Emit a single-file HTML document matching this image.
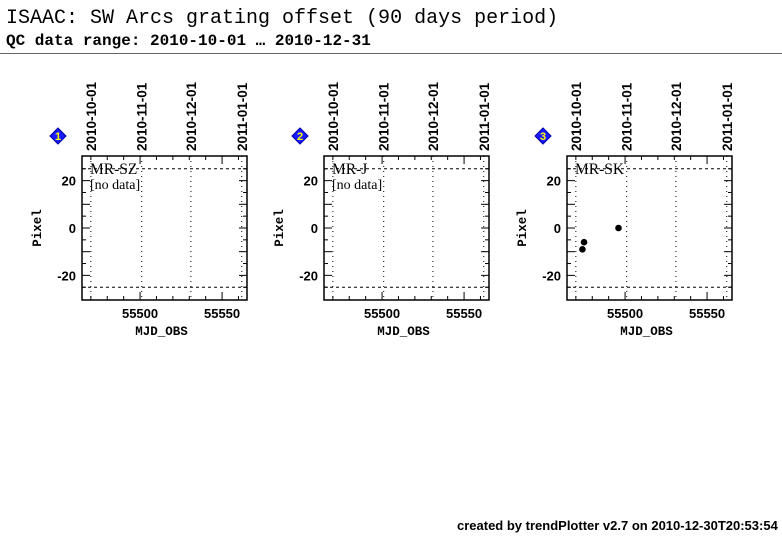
<!DOCTYPE html>
<html><head><meta charset="utf-8">
<style>
body{margin:0;background:#fff;width:782px;height:542px;overflow:hidden;position:relative;font-family:"Liberation Sans",sans-serif}
.title{position:absolute;left:6px;top:7px;font-family:"Liberation Mono",monospace;font-size:20px;color:#000;white-space:nowrap}
.sub{position:absolute;left:6px;top:32px;font-family:"Liberation Mono",monospace;font-size:16px;font-weight:bold;color:#000;white-space:nowrap}
.rule{position:absolute;left:0;top:53px;width:782px;height:1px;background:#666}
.foot{position:absolute;left:457px;top:518px;font-size:13px;font-weight:bold;white-space:nowrap}
svg{position:absolute;left:0;top:0}
</style></head><body>
<div class="title">ISAAC: SW Arcs grating offset (90 days period)</div>
<div class="sub">QC data range: 2010-10-01 … 2010-12-31</div>
<div class="rule"></div>
<div class="foot">created by trendPlotter v2.7 on 2010-12-30T20:53:54</div>
<svg id="chart" width="782" height="542"></svg>
<script>
const panelNames = ["MR-SZ", "MR-J", "MR-SK"];
const dateLabels = ["2010-10-01", "2010-11-01", "2010-12-01", "2011-01-01"];
const dateMjd = [55470, 55501, 55531, 55562];
const xTickLabels = [55500, 55550];
const yTickLabels = [20, 0, -20];
const refLines = [25, -25];
const skMjd = [55474, 55475, 55496];
const skPixel = [-9, -6, 0];
const panelData = [[], [], skMjd.map((m, i) => [m, skPixel[i]])];

const NS = "http://www.w3.org/2000/svg";
const svg = document.getElementById("chart");
const X0 = [82, 324, 567], W = 165, TOP = 156, BOT = 300;
const XMIN = 55464.6, XMAX = 55565.2, YMIN = -30.4, YMAX = 30.4;
function mk(tag, attrs, parent) {
  const e = document.createElementNS(NS, tag);
  for (const k in attrs) e.setAttribute(k, attrs[k]);
  (parent || svg).appendChild(e);
  return e;
}
panelNames.forEach((name, p) => {
  const x0 = X0[p];
  const xs = v => x0 + (v - XMIN) / (XMAX - XMIN) * W;
  const ys = v => BOT - (v - YMIN) / (YMAX - YMIN) * (BOT - TOP);
  const g = mk("g", {});
  
  
  dateMjd.forEach((m, i) => {
    const l = mk("line", {x1: xs(m), x2: xs(m), y1: TOP, y2: BOT, stroke: "#000", "stroke-width": 1, "stroke-dasharray": "1,4"}, g);
    
    
    const t = mk("text", {x: 0, y: 0, transform: `translate(${xs(m) + 5},151) rotate(-90)`, "font-size": 13.5, "font-weight": "bold", "font-family": "Liberation Sans, sans-serif"}, g);
    t.textContent = dateLabels[i];
    
    
  });
  refLines.forEach(v => {
    const l = mk("line", {x1: x0, x2: x0 + W, y1: ys(v), y2: ys(v), stroke: "#000", "stroke-width": 1, "stroke-dasharray": "3,3"}, g);
    
    
  });
  for (let m = 55470; m <= 55565; m += 10) {
    const big = m % 50 === 0, len = big ? 8 : 4;
    mk("line", {x1: xs(m), x2: xs(m), y1: BOT, y2: BOT - len, stroke: "#000"}, g);
    mk("line", {x1: xs(m), x2: xs(m), y1: TOP, y2: TOP + len, stroke: "#000"}, g);
  }
  for (let v = -25; v <= 25; v += 5) {
    const big = v % 10 === 0, len = big ? 8 : 4;
    mk("line", {x1: x0, x2: x0 + len, y1: ys(v), y2: ys(v), stroke: "#000"}, g);
    mk("line", {x1: x0 + W, x2: x0 + W - len, y1: ys(v), y2: ys(v), stroke: "#000"}, g);
  }
  const fr = mk("rect", {x: x0, y: TOP, width: W, height: BOT - TOP, fill: "none", stroke: "#000", "stroke-width": 1.5}, g);
  
  
  xTickLabels.forEach(v => {
    const t = mk("text", {x: xs(v), y: 318, "text-anchor": "middle", "font-size": 13, "font-weight": "bold"}, g);
    t.textContent = v;
    
    
  });
  yTickLabels.forEach(v => {
    const t = mk("text", {x: x0 - 6, y: ys(v) + 5, "text-anchor": "end", "font-size": 13, "font-weight": "bold"}, g);
    t.textContent = v;
    
    
  });
  const xt = mk("text", {x: x0 + W / 2 - 3, y: 335, "text-anchor": "middle", "font-size": 12.5, "font-weight": "bold", "font-family": "Liberation Mono, monospace"}, g);
  xt.textContent = "MJD_OBS";
  
  
  const yt = mk("text", {x: 0, y: 0, transform: `translate(${x0 - 41},228) rotate(-90)`, "text-anchor": "middle", "font-size": 12.5, "font-weight": "bold", "font-family": "Liberation Mono, monospace"}, g);
  yt.textContent = "Pixel";
  
  
  const nm = mk("text", {x: x0 + 8, y: TOP + 18, "font-size": 15.5, "font-family": "Liberation Serif, serif"}, g);
  nm.textContent = name;
  
  
  if (panelData[p].length === 0) {
    const nd = mk("text", {x: x0 + 8, y: TOP + 33, "font-size": 14, "font-family": "Liberation Serif, serif"}, g);
    nd.textContent = "[no data]";
    
    
  }
  panelData[p].forEach(d => {
    const c = mk("circle", {cx: xs(d[0]), cy: ys(d[1]), r: 3.3, fill: "#000"}, g);
    
    
  });
  const dx = x0 - 24, dy = 136;
  const dm = mk("polygon", {points: `${dx},${dy-8} ${dx+8},${dy} ${dx},${dy+8} ${dx-8},${dy}`, fill: "#1a1aff", stroke: "#0000aa"}, g);
  
  
  const dn = mk("text", {x: dx, y: dy + 4, "text-anchor": "middle", "font-size": 11, "font-weight": "bold", fill: "#ffff00"}, g);
  dn.textContent = String(p + 1);
  
  
});
</script>
</body></html>
